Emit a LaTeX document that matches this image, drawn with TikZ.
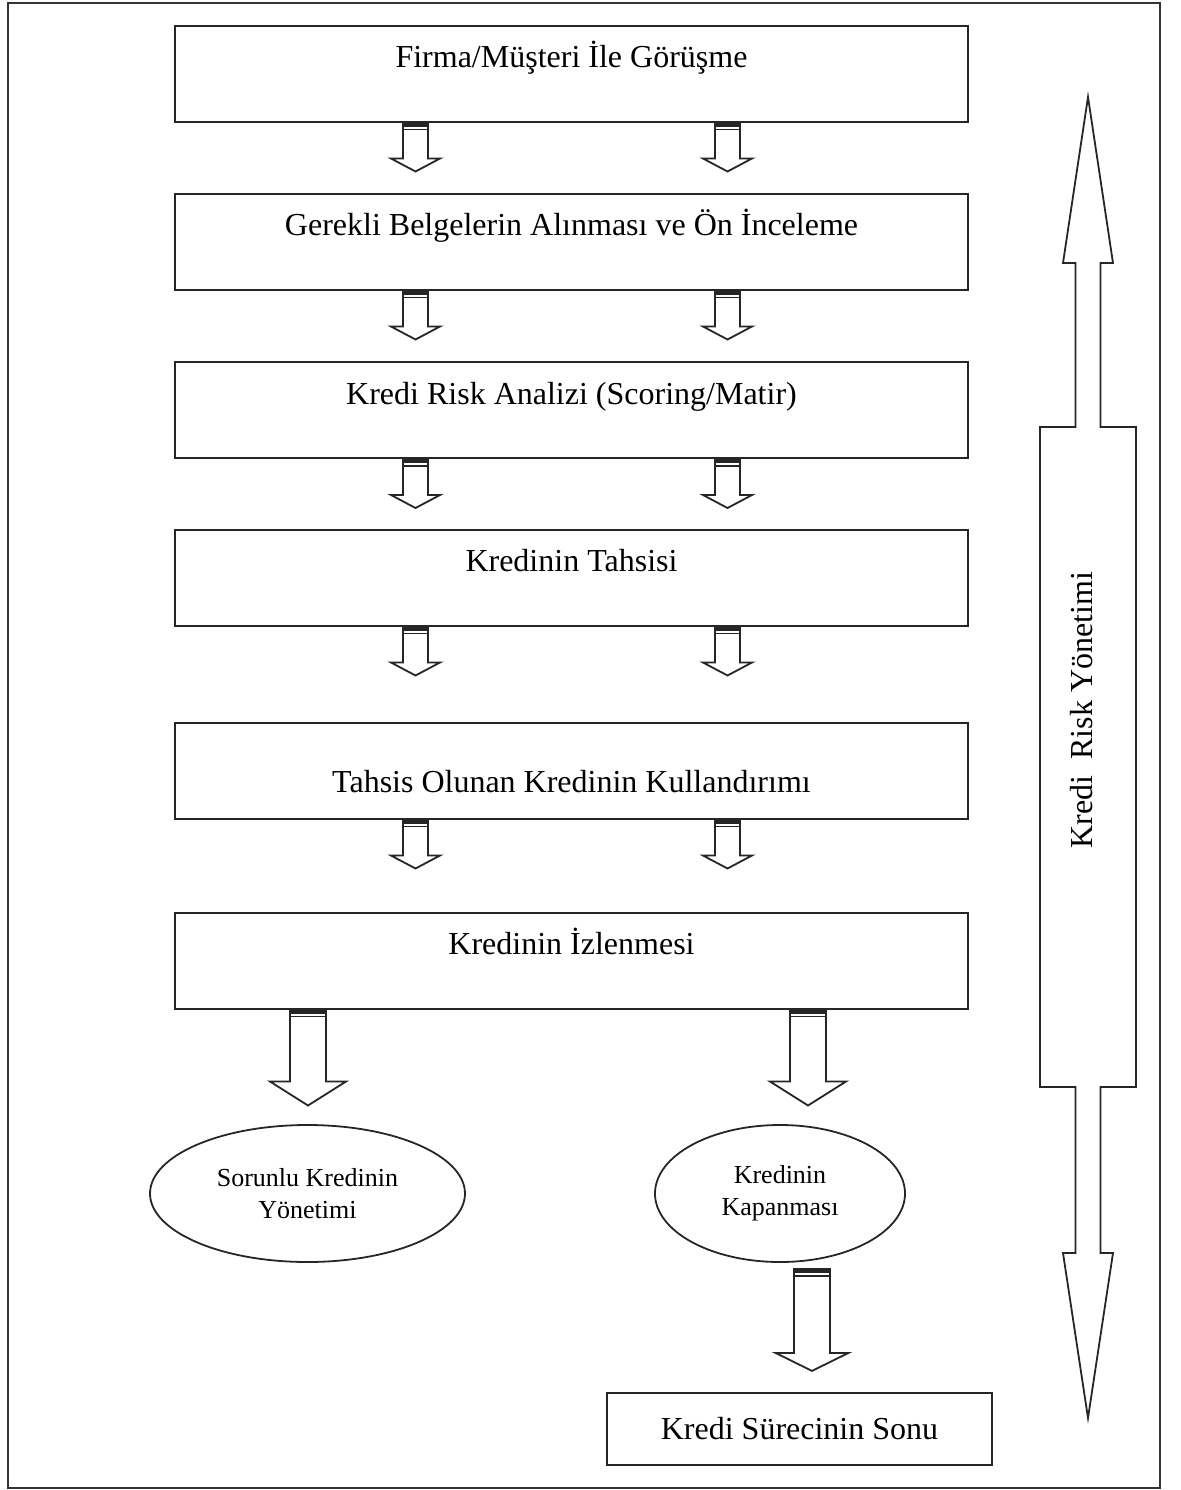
\documentclass[tikz,border=0pt]{standalone}
\usepackage{fontspec}
\setmainfont{Liberation Serif}
\usetikzlibrary{calc,shapes.geometric}

% block arrow pointing down: top point, shaft length, half shaft, half head, head length
\newcommand{\blkarrow}[5]{%
  \draw[blk] #1 ++(-#3,0) -- ++(0,#2) -- ++({#3-#4},0) -- ++(#4,#5)
    -- ++(#4,-#5) -- ++({#3-#4},0) -- ++(0,-#2) -- cycle;
  \draw[blk,line width=1.6pt] #1 ++(-#3,2.5) -- ++({2*#3},0);
  \draw[blk] #1 ++(-#3,7) -- ++({2*#3},0);
}

\begin{document}
\begin{tikzpicture}[x=0.5pt,y=-0.5pt,
  blk/.style={draw=black!85,line width=0.9pt,line join=miter},
  box/.style={draw=black!85,line width=1pt,rectangle,inner sep=0pt,
    minimum width=396.5pt,minimum height=48pt,text height=21pt,
    font=\fontsize{16}{20}\selectfont},
  oval/.style={draw=black!85,line width=0.9pt,ellipse,inner sep=0pt,
    minimum height=68.5pt,align=center,font=\fontsize{13}{16}\selectfont}]
\useasboundingbox (0,0) rectangle (1180,1490);
\draw[line width=1pt,black!80] (8,3) rectangle (1160,1488);

% process boxes
\node[box,text depth=27pt] (b1) at (571.5,73.5) {Firma/Müşteri İle Görüşme};
\node[box,text depth=27pt] (b2) at (571.5,241.5) {Gerekli Belgelerin Alınması ve Ön İnceleme};
\node[box,text depth=27pt] (b3) at (571.5,410) {Kredi Risk Analizi (Scoring/Matir)};
\node[box,text depth=27pt] (b4) at (571.5,577.5) {Kredinin Tahsisi};
\node[box,text height=35pt,text depth=13pt] (b5) at (571.5,770.5) {Tahsis Olunan Kredinin Kullandırımı};
\node[box,text depth=27pt] (b6) at (571.5,960.5) {Kredinin İzlenmesi};

\foreach \b in {b1,b2,b3,b4,b5}{
  \blkarrow{($(\b.south)+(-156,0)$)}{36}{12.5}{24.5}{13}
  \blkarrow{($(\b.south)+(156,0)$)}{36}{12.5}{24.5}{13}
}

% ends of the process
\node[oval,minimum width=157.5pt] (e1) at (307.5,1193.5) {Sorunlu Kredinin\\Yönetimi};
\node[oval,minimum width=125pt] (e2) at (780,1193.5) {Kredinin\\Kapanması};
\blkarrow{($(b6.south)+(-263.5,0)$)}{72}{18}{38}{24}
\blkarrow{($(b6.south)+(236.5,0)$)}{72}{18}{38}{24}

\node[draw=black!85,line width=1pt,inner sep=0pt,minimum width=192.5pt,
  minimum height=36pt,font=\fontsize{16}{20}\selectfont] (son) at (799.5,1429)
  {Kredi Sürecinin Sonu};
\blkarrow{($(e2.south)+(32,6)$)}{84}{18}{36.5}{18}

% risk management double arrow
\draw[blk] (1088,97) -- (1113,263) -- (1100.5,263) -- (1100.5,427) -- (1136,427)
  -- (1136,1087) -- (1100.5,1087) -- (1100.5,1253) -- (1113,1253) -- (1088,1418)
  -- (1063,1253) -- (1075.5,1253) -- (1075.5,1087) -- (1040,1087) -- (1040,427)
  -- (1075.5,427) -- (1075.5,263) -- (1063,263) -- cycle;
\node[rotate=90,font=\fontsize{16}{20}\selectfont] (risk) at (1082,710)
  {Kredi\ \ Risk Yönetimi};
\end{tikzpicture}
\end{document}
